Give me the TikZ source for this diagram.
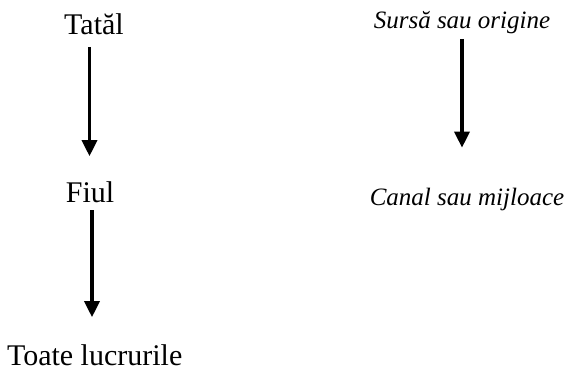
\documentclass[tikz,border=0pt]{standalone}
\usepackage{fontspec}
\setmainfont{Liberation Serif}
\usepackage{tikz}
\usetikzlibrary{
  arrows.meta,
  positioning
}
\tikzset{
  >={Triangle[length=16pt, width=15pt]},
  flow/.style={->, line width=3.4pt},
  every node/.style={inner sep=0pt, outer sep=0pt},
  term/.style={font=\fontsize{30}{35}\selectfont},
  gloss/.style={font=\fontsize{25}{30}\selectfont\itshape}
}

\begin{document}
\begin{tikzpicture}[x=1pt, y=-1pt]
    \useasboundingbox (0,0) rectangle (564,377);

    \node[term, anchor=base] (tatal) at (94,35) {Tatăl};
    \node[term, anchor=base] (fiul) at (90,202) {Fiul};
    \node[term, anchor=base west] (toate) at (7,365) {Toate lucrurile};

    \node[gloss, anchor=base] (sursa) at (462,29) {Sursă sau origine};
    \node[gloss, anchor=base] (canal) at (467,205) {Canal sau mijloace};

    \draw[flow, shorten <=12pt, shorten >=25pt]
      ([xshift=-4.5pt]tatal.base) -- ([xshift=-0.5pt]fiul.north);
    \draw[flow, shorten <=8pt, shorten >=27pt]
      ([xshift=2pt]fiul.base) -- ([xshift=2pt]fiul.base |- toate.north);
    \draw[flow, shorten <=10pt, shorten >=40pt]
      (sursa.base) -- (sursa.base |- canal.north);
  \end{tikzpicture}
\end{document}
